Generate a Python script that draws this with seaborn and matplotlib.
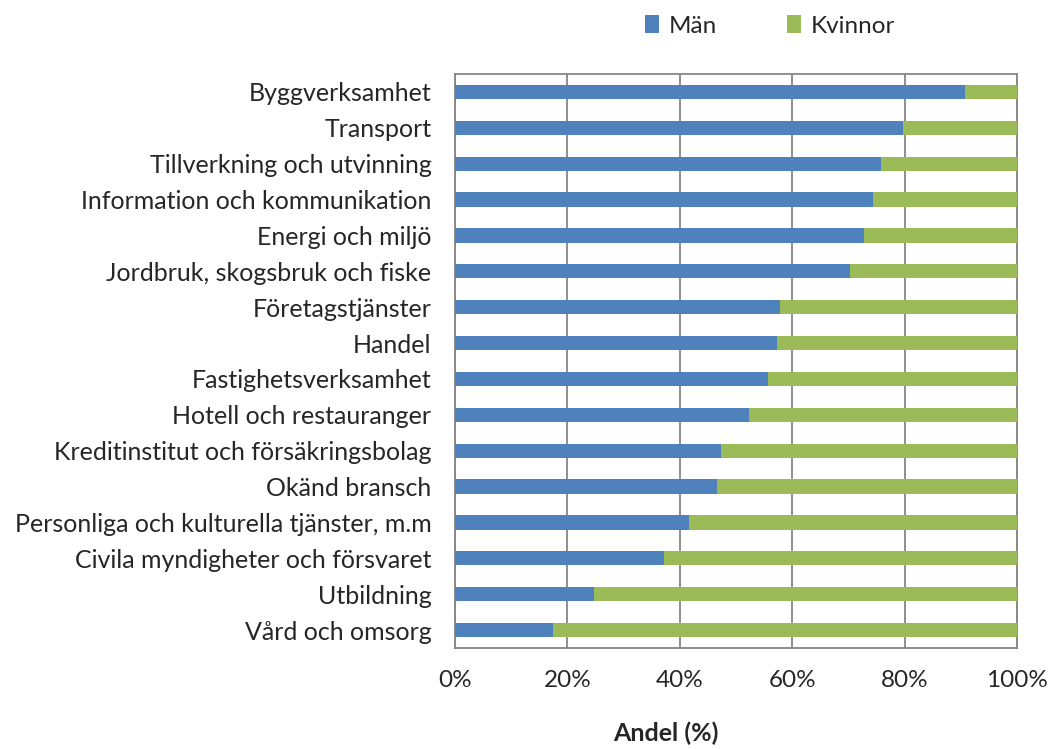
import matplotlib
matplotlib.use("Agg")
import matplotlib.pyplot as plt
import matplotlib.ticker as mticker
import seaborn as sns
import pandas as pd

branscher = [
    "Byggverksamhet",
    "Transport",
    "Tillverkning och utvinning",
    "Information och kommunikation",
    "Energi och miljö",
    "Jordbruk, skogsbruk och fiske",
    "Företagstjänster",
    "Handel",
    "Fastighetsverksamhet",
    "Hotell och restauranger",
    "Kreditinstitut och försäkringsbolag",
    "Okänd bransch",
    "Personliga och kulturella tjänster, m.m",
    "Civila myndigheter och försvaret",
    "Utbildning",
    "Vård och omsorg",
]
man = [90.7, 79.7, 75.8, 74.4, 72.8, 70.3, 57.9, 57.3,
       55.7, 52.4, 47.4, 46.7, 41.6, 37.1, 24.7, 17.5]
kvinnor = [9.3, 20.3, 24.2, 25.6, 27.2, 29.7, 42.1, 42.7,
           44.3, 47.6, 52.6, 53.3, 58.4, 62.9, 75.3, 82.5]

BLUE = "#4F81BD"
GREEN = "#9BBB59"
GRID = "#868686"

df = pd.DataFrame({"bransch": branscher, "Män": man, "Kvinnor": kvinnor})
df["total"] = df["Män"] + df["Kvinnor"]

sns.set_style("white")
plt.rcParams["font.family"] = ["Lato", "DejaVu Sans"]

fig = plt.figure(figsize=(10.5, 7.49), dpi=100)
ax = fig.add_axes([455 / 1050, 1 - 648 / 749, 562 / 1050, 574 / 749])

sns.barplot(data=df, x="total", y="bransch", color=GREEN, width=0.4,
            saturation=1, linewidth=0, ax=ax, label="Kvinnor", zorder=3)
sns.barplot(data=df, x="Män", y="bransch", color=BLUE, width=0.4,
            saturation=1, linewidth=0, ax=ax, label="Män", zorder=3)

ax.set_xlim(0, 100)
ax.set_ylim(len(branscher) - 0.5, -0.5)
ax.xaxis.set_major_locator(mticker.MultipleLocator(20))
ax.xaxis.set_major_formatter(mticker.FuncFormatter(lambda v, p: f"{v:.0f}%"))
ax.grid(axis="x", color=GRID, linewidth=1.3, zorder=0)
ax.set_axisbelow(True)

# category ticks between bars
ax.set_yticks([i - 0.5 for i in range(len(branscher) + 1)], minor=True)
ax.tick_params(axis="y", which="major", length=0, pad=17, labelsize=18)
ax.tick_params(axis="y", which="minor", length=6, color=GRID, width=1.3)
ax.tick_params(axis="x", which="major", length=6, color=GRID, width=1.3,
               labelsize=17.5, pad=10)

for side in ["left", "bottom", "top", "right"]:
    ax.spines[side].set_color(GRID)
    ax.spines[side].set_linewidth(1.3)

ax.set_ylabel("")
ax.set_xlabel("")
fig.text(666 / 1050, 1 - 733 / 749, "Andel (%)", ha="center", va="center",
         fontsize=18, fontweight="bold")

handles, labels = ax.get_legend_handles_labels()
order = [labels.index("Män"), labels.index("Kvinnor")]
ax.legend([handles[i] for i in order], [labels[i] for i in order],
          loc="center", bbox_to_anchor=(770 / 1050, 1 - 26 / 749),
          bbox_transform=fig.transFigure, ncol=2, frameon=False,
          fontsize=17.5, handlelength=0.55, handleheight=0.7,
          handletextpad=0.4, columnspacing=2.9)

fig.savefig("out.png", dpi=100)
